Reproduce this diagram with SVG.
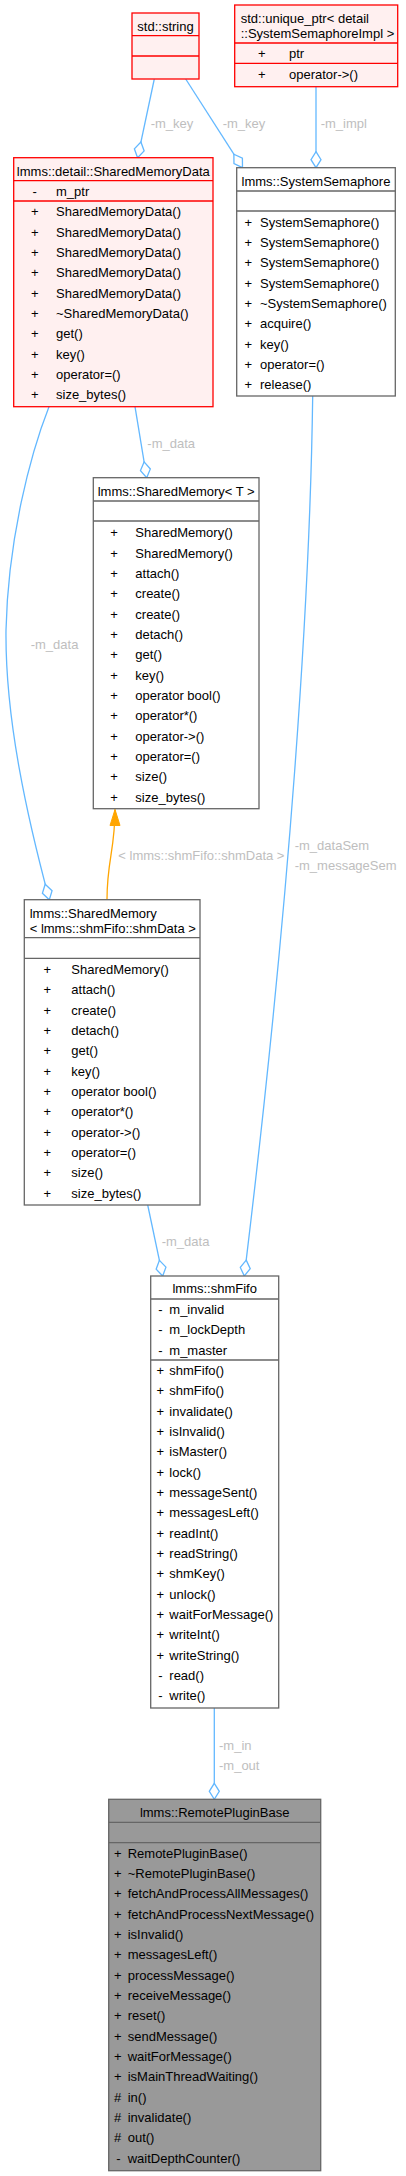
<svg xmlns="http://www.w3.org/2000/svg" width="406" height="2176" viewBox="0 0 406 2176">
<style>
text{font-family:"Liberation Sans",Arial,Helvetica,sans-serif;font-size:13px;fill:#000}
.m{text-anchor:middle}
.lbl{fill:#BEBEBE}
.red rect{fill:#FFF0F0;stroke:#FF0000;stroke-width:1.3}
.red line{stroke:#FF0000;stroke-width:1.3}
.gry rect{fill:#FFFFFF;stroke:#666666;stroke-width:1.3}
.gry line{stroke:#666666;stroke-width:1.3}
.main rect{fill:#999999;stroke:#666666;stroke-width:1.3}
.main line{stroke:#666666;stroke-width:1.3}
.e{fill:none;stroke:#63B8FF;stroke-width:1.3}
.inh{fill:none;stroke:#FFA500;stroke-width:1.3}
</style>
<defs>
<marker id="dia" markerUnits="userSpaceOnUse" markerWidth="20" markerHeight="14" viewBox="0 0 20 14" refX="17" refY="7" orient="auto">
<path d="M1,7 L9,2 L17,7 L9,12 Z" fill="#FFFFFF" stroke="#63B8FF" stroke-width="1.3"/>
</marker>
<marker id="tri" markerUnits="userSpaceOnUse" markerWidth="18" markerHeight="12" viewBox="0 0 18 12" refX="17" refY="6" orient="auto">
<path d="M1,1 L17,6 L1,11 Z" fill="#FFA500" stroke="#FFA500" stroke-width="1"/>
</marker>
</defs>
<rect width="406" height="2176" fill="#FFFFFF"/>

<g id="connectors">
<path class="e" d="M154.3,79 L137.6,157.7" marker-end="url(#dia)"/>
<path class="e" d="M185.7,79 L242.5,167.7" marker-end="url(#dia)"/>
<path class="e" d="M316,86.7 L316,167.7" marker-end="url(#dia)"/>
<path class="e" d="M135,406.7 L146.7,477.7" marker-end="url(#dia)"/>
<path class="e" d="M49,406.7 C30,455 8,540 6,630 C5,720 28,820 49.3,899.7" marker-end="url(#dia)"/>
<path class="e" d="M312.7,396 C310,600 290,900 244.3,1276" marker-end="url(#dia)"/>
<path class="e" d="M147.7,1205 L162.7,1276" marker-end="url(#dia)"/>
<path class="e" d="M214.3,1708 L214.3,1799.3" marker-end="url(#dia)"/>
<path class="inh" d="M107,899.7 C107,860 115,850 115,809.5" marker-end="url(#tri)"/>
<text class="lbl" x="150.7" y="127.5">-m_key</text>
<text class="lbl" x="222.7" y="127.5">-m_key</text>
<text class="lbl" x="320.7" y="127.5">-m_impl</text>
<text class="lbl" x="147.3" y="448">-m_data</text>
<text class="lbl" x="30.7" y="648.5">-m_data</text>
<text class="lbl" x="118.3" y="859.5">&lt; lmms::shmFifo::shmData &gt;</text>
<text class="lbl" x="294.7" y="849.5">-m_dataSem</text>
<text class="lbl" x="294.7" y="870">-m_messageSem</text>
<text class="lbl" x="161.7" y="1246">-m_data</text>
<text class="lbl" x="219" y="1749.5">-m_in</text>
<text class="lbl" x="219" y="1769.5">-m_out</text>
</g>

<g id="std_string" class="red">
<rect x="132" y="13" width="67" height="66"/>
<line x1="132" y1="35.7" x2="199" y2="35.7"/>
<line x1="132" y1="56" x2="199" y2="56"/>
<text class="m" x="165.5" y="30.5">std::string</text>
</g>

<g id="unique_ptr" class="red">
<rect x="234.7" y="5" width="163" height="81.7"/>
<line x1="234.7" y1="43" x2="397.7" y2="43"/>
<line x1="234.7" y1="63.3" x2="397.7" y2="63.3"/>
<text x="240.7" y="23">std::unique_ptr&lt; detail</text>
<text x="240.7" y="37.5">::SystemSemaphoreImpl &gt;</text>
<text class="m" x="261.7" y="58.3">+</text><text x="289" y="58.3">ptr</text>
<text class="m" x="261.7" y="78.7">+</text><text x="289" y="78.7">operator-&gt;()</text>
</g>

<g id="SharedMemoryData" class="red">
<rect x="13.7" y="157.7" width="199.3" height="249"/>
<line x1="13.7" y1="180.7" x2="213" y2="180.7"/>
<line x1="13.7" y1="201" x2="213" y2="201"/>
<text class="m" x="113.3" y="175.5">lmms::detail::SharedMemoryData</text>
<text class="m" x="34.7" y="196">-</text><text x="56" y="196">m_ptr</text>
<text class="m" x="34.7" y="216.3">+</text><text x="56" y="216.3">SharedMemoryData()</text>
<text class="m" x="34.7" y="236.6">+</text><text x="56" y="236.6">SharedMemoryData()</text>
<text class="m" x="34.7" y="257">+</text><text x="56" y="257">SharedMemoryData()</text>
<text class="m" x="34.7" y="277.3">+</text><text x="56" y="277.3">SharedMemoryData()</text>
<text class="m" x="34.7" y="297.6">+</text><text x="56" y="297.6">SharedMemoryData()</text>
<text class="m" x="34.7" y="318">+</text><text x="56" y="318">~SharedMemoryData()</text>
<text class="m" x="34.7" y="338.3">+</text><text x="56" y="338.3">get()</text>
<text class="m" x="34.7" y="358.6">+</text><text x="56" y="358.6">key()</text>
<text class="m" x="34.7" y="379">+</text><text x="56" y="379">operator=()</text>
<text class="m" x="34.7" y="399.3">+</text><text x="56" y="399.3">size_bytes()</text>
</g>

<g id="SystemSemaphore" class="gry">
<rect x="236.7" y="167.7" width="158.6" height="228.3"/>
<line x1="236.7" y1="191" x2="395.3" y2="191"/>
<line x1="236.7" y1="211" x2="395.3" y2="211"/>
<text class="m" x="316" y="185.7">lmms::SystemSemaphore</text>
<text class="m" x="248.3" y="226.7">+</text><text x="260" y="226.7">SystemSemaphore()</text>
<text class="m" x="248.3" y="247">+</text><text x="260" y="247">SystemSemaphore()</text>
<text class="m" x="248.3" y="267.3">+</text><text x="260" y="267.3">SystemSemaphore()</text>
<text class="m" x="248.3" y="287.7">+</text><text x="260" y="287.7">SystemSemaphore()</text>
<text class="m" x="248.3" y="308">+</text><text x="260" y="308">~SystemSemaphore()</text>
<text class="m" x="248.3" y="328.3">+</text><text x="260" y="328.3">acquire()</text>
<text class="m" x="248.3" y="348.7">+</text><text x="260" y="348.7">key()</text>
<text class="m" x="248.3" y="369">+</text><text x="260" y="369">operator=()</text>
<text class="m" x="248.3" y="389.3">+</text><text x="260" y="389.3">release()</text>
</g>

<g id="SharedMemoryT" class="gry">
<rect x="93.3" y="477.7" width="165.7" height="331"/>
<line x1="93.3" y1="501" x2="259" y2="501"/>
<line x1="93.3" y1="521" x2="259" y2="521"/>
<text class="m" x="176.2" y="495.7">lmms::SharedMemory&lt; T &gt;</text>
<text class="m" x="114" y="537.3">+</text><text x="135.3" y="537.3">SharedMemory()</text>
<text class="m" x="114" y="557.6">+</text><text x="135.3" y="557.6">SharedMemory()</text>
<text class="m" x="114" y="578">+</text><text x="135.3" y="578">attach()</text>
<text class="m" x="114" y="598.3">+</text><text x="135.3" y="598.3">create()</text>
<text class="m" x="114" y="618.6">+</text><text x="135.3" y="618.6">create()</text>
<text class="m" x="114" y="639">+</text><text x="135.3" y="639">detach()</text>
<text class="m" x="114" y="659.3">+</text><text x="135.3" y="659.3">get()</text>
<text class="m" x="114" y="679.6">+</text><text x="135.3" y="679.6">key()</text>
<text class="m" x="114" y="700">+</text><text x="135.3" y="700">operator bool()</text>
<text class="m" x="114" y="720.3">+</text><text x="135.3" y="720.3">operator*()</text>
<text class="m" x="114" y="740.6">+</text><text x="135.3" y="740.6">operator-&gt;()</text>
<text class="m" x="114" y="761">+</text><text x="135.3" y="761">operator=()</text>
<text class="m" x="114" y="781.3">+</text><text x="135.3" y="781.3">size()</text>
<text class="m" x="114" y="801.6">+</text><text x="135.3" y="801.6">size_bytes()</text>
</g>

<g id="SharedMemoryShmData" class="gry">
<rect x="24.3" y="899.7" width="175.7" height="305.3"/>
<line x1="24.3" y1="937.7" x2="200" y2="937.7"/>
<line x1="24.3" y1="958.3" x2="200" y2="958.3"/>
<text x="29.7" y="918.3">lmms::SharedMemory</text>
<text x="29.7" y="932.7">&lt; lmms::shmFifo::shmData &gt;</text>
<text class="m" x="47.3" y="974">+</text><text x="71.3" y="974">SharedMemory()</text>
<text class="m" x="47.3" y="994.3">+</text><text x="71.3" y="994.3">attach()</text>
<text class="m" x="47.3" y="1014.7">+</text><text x="71.3" y="1014.7">create()</text>
<text class="m" x="47.3" y="1035">+</text><text x="71.3" y="1035">detach()</text>
<text class="m" x="47.3" y="1055.3">+</text><text x="71.3" y="1055.3">get()</text>
<text class="m" x="47.3" y="1075.7">+</text><text x="71.3" y="1075.7">key()</text>
<text class="m" x="47.3" y="1096">+</text><text x="71.3" y="1096">operator bool()</text>
<text class="m" x="47.3" y="1116.3">+</text><text x="71.3" y="1116.3">operator*()</text>
<text class="m" x="47.3" y="1136.7">+</text><text x="71.3" y="1136.7">operator-&gt;()</text>
<text class="m" x="47.3" y="1157">+</text><text x="71.3" y="1157">operator=()</text>
<text class="m" x="47.3" y="1177.3">+</text><text x="71.3" y="1177.3">size()</text>
<text class="m" x="47.3" y="1197.7">+</text><text x="71.3" y="1197.7">size_bytes()</text>
</g>

<g id="shmFifo" class="gry">
<rect x="150.7" y="1276" width="128" height="432"/>
<line x1="150.7" y1="1299" x2="278.7" y2="1299"/>
<line x1="150.7" y1="1360" x2="278.7" y2="1360"/>
<text class="m" x="214.7" y="1293.3">lmms::shmFifo</text>
<text class="m" x="160.3" y="1314">-</text><text x="169.3" y="1314">m_invalid</text>
<text class="m" x="160.3" y="1334.3">-</text><text x="169.3" y="1334.3">m_lockDepth</text>
<text class="m" x="160.3" y="1354.7">-</text><text x="169.3" y="1354.7">m_master</text>
<text class="m" x="160.3" y="1375">+</text><text x="169.3" y="1375">shmFifo()</text>
<text class="m" x="160.3" y="1395.3">+</text><text x="169.3" y="1395.3">shmFifo()</text>
<text class="m" x="160.3" y="1415.7">+</text><text x="169.3" y="1415.7">invalidate()</text>
<text class="m" x="160.3" y="1436">+</text><text x="169.3" y="1436">isInvalid()</text>
<text class="m" x="160.3" y="1456.3">+</text><text x="169.3" y="1456.3">isMaster()</text>
<text class="m" x="160.3" y="1476.7">+</text><text x="169.3" y="1476.7">lock()</text>
<text class="m" x="160.3" y="1497">+</text><text x="169.3" y="1497">messageSent()</text>
<text class="m" x="160.3" y="1517.3">+</text><text x="169.3" y="1517.3">messagesLeft()</text>
<text class="m" x="160.3" y="1537.7">+</text><text x="169.3" y="1537.7">readInt()</text>
<text class="m" x="160.3" y="1558">+</text><text x="169.3" y="1558">readString()</text>
<text class="m" x="160.3" y="1578.3">+</text><text x="169.3" y="1578.3">shmKey()</text>
<text class="m" x="160.3" y="1598.7">+</text><text x="169.3" y="1598.7">unlock()</text>
<text class="m" x="160.3" y="1619">+</text><text x="169.3" y="1619">waitForMessage()</text>
<text class="m" x="160.3" y="1639.3">+</text><text x="169.3" y="1639.3">writeInt()</text>
<text class="m" x="160.3" y="1659.7">+</text><text x="169.3" y="1659.7">writeString()</text>
<text class="m" x="160.3" y="1680">-</text><text x="169.3" y="1680">read()</text>
<text class="m" x="160.3" y="1700.3">-</text><text x="169.3" y="1700.3">write()</text>
</g>

<g id="RemotePluginBase" class="main">
<rect x="108.7" y="1799.3" width="212" height="371.4"/>
<line x1="108.7" y1="1822.3" x2="320.7" y2="1822.3"/>
<line x1="108.7" y1="1842.7" x2="320.7" y2="1842.7"/>
<text class="m" x="214.7" y="1817.3">lmms::RemotePluginBase</text>
<text class="m" x="117.7" y="1857.7">+</text><text x="127.7" y="1857.7">RemotePluginBase()</text>
<text class="m" x="117.7" y="1878">+</text><text x="127.7" y="1878">~RemotePluginBase()</text>
<text class="m" x="117.7" y="1898.3">+</text><text x="127.7" y="1898.3">fetchAndProcessAllMessages()</text>
<text class="m" x="117.7" y="1918.7">+</text><text x="127.7" y="1918.7">fetchAndProcessNextMessage()</text>
<text class="m" x="117.7" y="1939">+</text><text x="127.7" y="1939">isInvalid()</text>
<text class="m" x="117.7" y="1959.3">+</text><text x="127.7" y="1959.3">messagesLeft()</text>
<text class="m" x="117.7" y="1979.7">+</text><text x="127.7" y="1979.7">processMessage()</text>
<text class="m" x="117.7" y="2000">+</text><text x="127.7" y="2000">receiveMessage()</text>
<text class="m" x="117.7" y="2020.3">+</text><text x="127.7" y="2020.3">reset()</text>
<text class="m" x="117.7" y="2040.7">+</text><text x="127.7" y="2040.7">sendMessage()</text>
<text class="m" x="117.7" y="2061">+</text><text x="127.7" y="2061">waitForMessage()</text>
<text class="m" x="117.7" y="2081.3">+</text><text x="127.7" y="2081.3">isMainThreadWaiting()</text>
<text class="m" x="117.7" y="2101.7">#</text><text x="127.7" y="2101.7">in()</text>
<text class="m" x="117.7" y="2122">#</text><text x="127.7" y="2122">invalidate()</text>
<text class="m" x="117.7" y="2142.3">#</text><text x="127.7" y="2142.3">out()</text>
<text class="m" x="118.3" y="2162.7">-</text><text x="127.7" y="2162.7">waitDepthCounter()</text>
</g>
</svg>
